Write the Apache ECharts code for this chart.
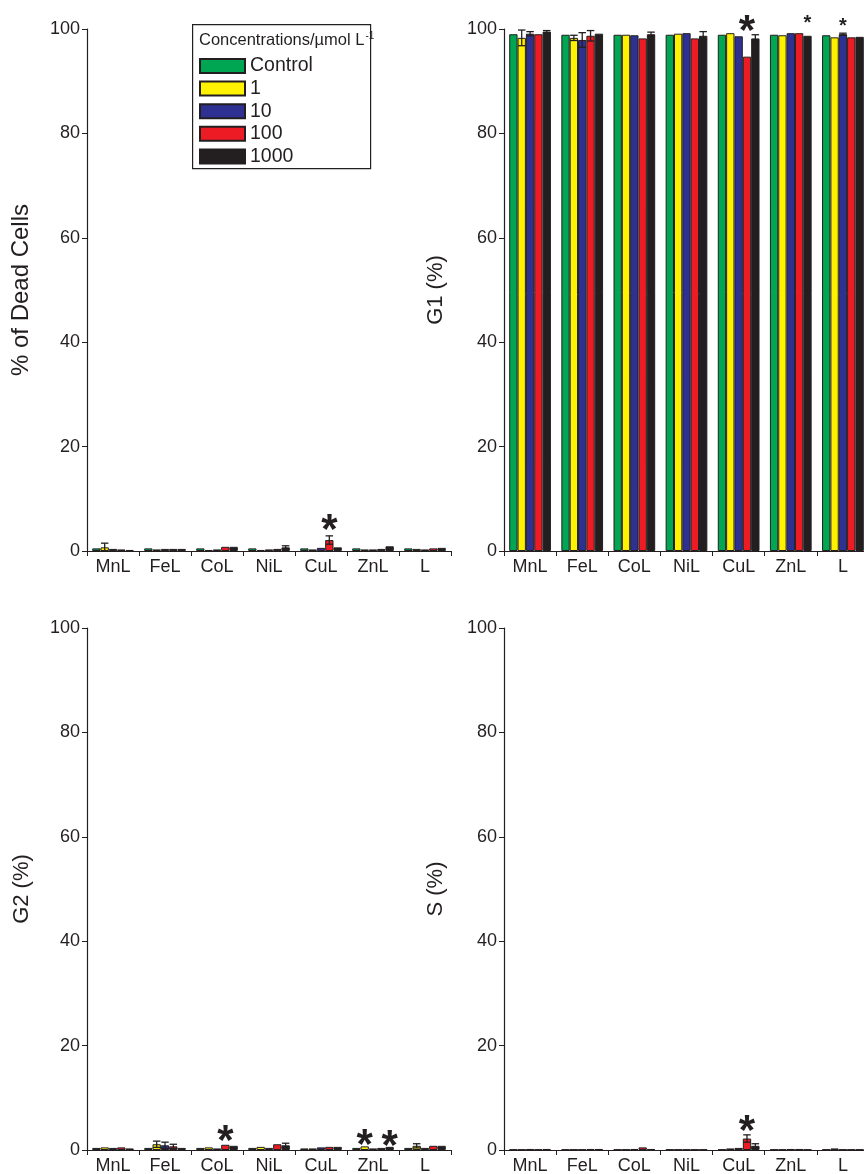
<!DOCTYPE html>
<html>
<head>
<meta charset="utf-8">
<script src="https://cdn.jsdelivr.net/npm/echarts@6/dist/echarts.min.js"></script>
<style>html,body{margin:0;padding:0;background:#fff}#c{width:864px;height:1174px}</style>
</head>
<body>
<div id="c"></div>
<script>
// ---------- data ----------
const categories = ['MnL', 'FeL', 'CoL', 'NiL', 'CuL', 'ZnL', 'L'];
const seriesNames = ['Control', '1', '10', '100', '1000'];
const yTicks = [0, 20, 40, 60, 80, 100];

// values per concentration (rows: Control, 1, 10, 100, 1000), columns: categories
const deadCells = [
  [0.5, 0.5, 0.5, 0.5, 0.5, 0.5, 0.5],
  [0.7, 0.3, 0.2, 0.2, 0.3, 0.3, 0.4],
  [0.4, 0.4, 0.3, 0.3, 0.6, 0.3, 0.3],
  [0.3, 0.4, 0.8, 0.4, 2.1, 0.4, 0.5],
  [0.2, 0.4, 0.8, 0.7, 0.7, 0.9, 0.6]
];
const deadCellsErr = [
  [0, 0, 0, 0, 0, 0, 0],
  [0.8, 0, 0, 0, 0, 0, 0],
  [0, 0, 0, 0, 0, 0, 0],
  [0, 0, 0, 0, 0.8, 0, 0],
  [0, 0, 0, 0.3, 0, 0, 0]
];
const g1 = [
  [99.0, 98.9, 98.9, 98.9, 98.9, 98.9, 98.8],
  [98.3, 98.3, 98.9, 99.1, 99.2, 98.8, 98.4],
  [99.1, 97.9, 98.8, 99.2, 98.6, 99.2, 99.0],
  [99.0, 98.7, 98.2, 98.2, 94.7, 99.2, 98.4],
  [99.5, 99.1, 99.0, 98.7, 98.2, 98.7, 98.5]
];
const g1Err = [
  [0, 0, 0, 0, 0, 0, 0],
  [1.5, 0.5, 0, 0, 0, 0, 0],
  [0.4, 1.4, 0, 0, 0, 0, 0.2],
  [0, 1.0, 0, 0, 0, 0, 0],
  [0.2, 0, 0.4, 0.8, 0.7, 0, 0]
];
const g2 = [
  [0.4, 0.4, 0.4, 0.4, 0.3, 0.4, 0.4],
  [0.5, 1.1, 0.5, 0.6, 0.3, 0.7, 0.8],
  [0.4, 0.9, 0.3, 0.4, 0.5, 0.3, 0.4],
  [0.5, 0.7, 1.0, 1.1, 0.6, 0.4, 0.8],
  [0.3, 0.4, 0.8, 0.9, 0.6, 0.6, 0.8]
];
const g2Err = [
  [0, 0, 0, 0, 0, 0, 0],
  [0, 0.6, 0, 0, 0, 0, 0.4],
  [0, 0.6, 0, 0, 0, 0, 0],
  [0, 0.4, 0, 0, 0, 0, 0],
  [0, 0, 0, 0.4, 0, 0, 0]
];
const sPhase = [
  [0.1, 0.1, 0.1, 0.1, 0.1, 0.1, 0.1],
  [0.1, 0.1, 0.1, 0.1, 0.3, 0.1, 0.3],
  [0.2, 0.1, 0.2, 0.1, 0.4, 0.2, 0.1],
  [0.1, 0.2, 0.5, 0.1, 2.2, 0.2, 0.1],
  [0.2, 0.2, 0.2, 0.1, 0.8, 0.1, 0.1]
];
const sPhaseErr = [
  [0, 0, 0, 0, 0, 0, 0],
  [0, 0, 0, 0, 0, 0, 0],
  [0, 0, 0, 0, 0, 0, 0],
  [0, 0, 0, 0, 0.7, 0, 0],
  [0, 0, 0, 0, 0.4, 0, 0]
];
// significance stars: [categoryIndex, seriesIndex, value (star centre), size]
const deadStars = [[4, 3, 6.0, 'big']];
const g1Stars = [[4, 3, 101.6, 'big'], [5, 4, 102.2, 'small'], [6, 2, 101.6, 'small']];
const g2Stars = [[2, 3, 3.8, 'big'], [5, 1, 3.0, 'big'], [5, 4, 2.7, 'big']];
const sStars = [[4, 3, 5.6, 'big']];

// ---------- styling ----------
const colors = ['#00a651', '#fff200', '#2e3192', '#ed1c24', '#231f20'];
const FONT = 'Liberation Sans';
const axisColor = '#231f20';
const panels = [
  { name: '% of Dead Cells', nameSize: 24, values: deadCells, err: deadCellsErr, stars: deadStars, left: 87, top: 29, width: 364, gap: 54 },
  { name: 'G1 (%)', nameSize: 22, values: g1, err: g1Err, stars: g1Stars, left: 504, top: 29, width: 365, gap: 57 },
  { name: 'G2 (%)', nameSize: 22, values: g2, err: g2Err, stars: g2Stars, left: 87, top: 628, width: 364, gap: 54 },
  { name: 'S (%)', nameSize: 22, values: sPhase, err: sPhaseErr, stars: sStars, left: 504, top: 628, width: 365, gap: 57 }
];

const grid = [], xAxis = [], yAxis = [], series = [];
panels.forEach((p, pi) => {
  grid.push({ left: p.left, top: p.top, width: p.width, height: 522, containLabel: false, outerBoundsMode: 'none' });
  xAxis.push({
    type: 'category', gridIndex: pi, data: categories,
    axisLine: { show: true, lineStyle: { color: axisColor, width: 1.2 } },
    axisTick: { show: true, length: 5, interval: 0, lineStyle: { color: axisColor } },
    axisLabel: { interval: 0, color: '#231f20', fontFamily: FONT, fontSize: 18, margin: 7 }
  });
  yAxis.push({
    type: 'value', gridIndex: pi, min: 0, max: 100, interval: 20,
    splitLine: { show: false },
    axisLine: { show: true, lineStyle: { color: axisColor, width: 1.2 } },
    axisTick: { show: true, length: 5, lineStyle: { color: axisColor } },
    axisLabel: { color: '#231f20', fontFamily: FONT, fontSize: 18, margin: 7 },
    name: p.name, nameLocation: 'middle', nameGap: p.gap, nameRotate: 90,
    nameTextStyle: { color: '#231f20', fontFamily: FONT, fontSize: p.nameSize }
  });
  p.values.forEach((vals, si) => {
    series.push({
      type: 'bar', name: seriesNames[si], xAxisIndex: pi, yAxisIndex: pi,
      data: vals, barGap: '0%', barCategoryGap: '20%',
      itemStyle: { color: colors[si], borderColor: '#231f20', borderWidth: 1 },
      emphasis: { disabled: true }, animation: false
    });
  });
  // error bars
  const errData = [];
  p.err.forEach((row, si) => row.forEach((e, ci) => {
    if (e > 0) errData.push([ci, si, p.values[si][ci], e]);
  }));
  series.push({
    type: 'custom', xAxisIndex: pi, yAxisIndex: pi, data: errData, z: 5,
    encode: { x: 0, y: 2 }, animation: false, silent: true,
    renderItem: function (params, api) {
      const ci = api.value(0), si = api.value(1), v = api.value(2), e = api.value(3);
      const bw = api.size([1, 0])[0] * 0.8 / 5;
      const base = api.coord([ci, v]);
      const x = base[0] + (si - 2) * bw;
      const yTop = api.coord([ci, v + e])[1];
      const yBot = api.coord([ci, Math.max(0, v - e)])[1];
      const cap = bw * 0.45;
      const st = { stroke: '#231f20', lineWidth: 1.3 };
      return {
        type: 'group', children: [
          { type: 'line', shape: { x1: x, y1: yTop, x2: x, y2: yBot }, style: st },
          { type: 'line', shape: { x1: x - cap, y1: yTop, x2: x + cap, y2: yTop }, style: st },
          { type: 'line', shape: { x1: x - cap, y1: yBot, x2: x + cap, y2: yBot }, style: st }
        ]
      };
    }
  });
  // stars
  series.push({
    type: 'custom', xAxisIndex: pi, yAxisIndex: pi, data: p.stars, z: 6, clip: false,
    encode: { x: 0, y: 2 }, animation: false, silent: true,
    renderItem: function (params, api) {
      const ci = api.value(0), si = api.value(1), v = api.value(2);
      const big = p.stars[params.dataIndex][3] === 'big';
      const fs = big ? 42 : 20;
      const bw = api.size([1, 0])[0] * 0.8 / 5;
      const c = api.coord([ci, v]);
      return {
        type: 'text',
        style: {
          text: '*', x: c[0] + (si - 2) * bw, y: c[1] + fs * 0.28,
          align: 'center', verticalAlign: 'middle',
          font: 'bold ' + fs + 'px "' + FONT + '"', fill: '#231f20'
        }
      };
    }
  });
});

const option = {
  backgroundColor: '#fff',
  animation: false,
  grid, xAxis, yAxis, series,
  legend: {
    data: seriesNames.map(n => ({ name: n, icon: 'rect' })), orient: 'vertical', left: 199, top: 56,
    padding: 0,
    itemWidth: 45, itemHeight: 14, itemGap: 2.6, itemTextGap: 12,
    textStyle: { color: '#231f20', fontFamily: FONT, fontSize: 19.5, lineHeight: 19 },
    selectedMode: false
  },
  graphic: [
    { type: 'rect', left: 192, top: 24, shape: { width: 178, height: 144 },
      style: { fill: '#fff', stroke: '#231f20', lineWidth: 1.2 }, z: -1 },
    { type: 'text', left: 199, top: 31, z: 10,
      style: {
        text: '{a|Concentrations/µmol L}{s|-1}',
        rich: {
          a: { fontFamily: FONT, fontSize: 16.5, fill: '#231f20' },
          s: { fontFamily: FONT, fontSize: 10, fill: '#231f20', verticalAlign: 'top', padding: [0, 0, 8, 1] }
        }
      }
    }
  ]
};

const chart = echarts.init(document.getElementById('c'), null, { renderer: 'canvas' });
chart.setOption(option);
</script>
</body>
</html>
